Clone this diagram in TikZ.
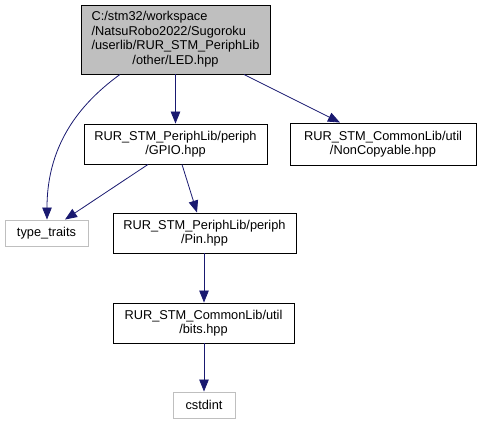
\documentclass[tikz,border=0pt]{standalone}
\usepackage{fontspec}
\setmainfont{Liberation Sans}
\usetikzlibrary{arrows.meta}
\definecolor{edgeblue}{HTML}{191970}
\definecolor{nodegrey}{HTML}{BFBFBF}
\tikzset{
  filebox/.style={draw=black, line width=0.9pt, minimum width=#1, inner sep=0pt, minimum height=40pt, align=center, font=\fontsize{12.8}{14.5}\selectfont},
  extbox/.style={draw=nodegrey, line width=0.9pt, minimum width=#1, inner sep=0pt, minimum height=26pt, align=center, font=\fontsize{12.8}{14.5}\selectfont},
  dep/.style={draw=edgeblue, line width=0.8pt, -{Triangle[length=12pt,width=9.5pt]}, fill=none},
}
\begin{document}
\begin{tikzpicture}[x=1pt,y=-1pt]
\useasboundingbox (0,0) rectangle (477,424);
\node[filebox=189pt, minimum height=69pt, fill=nodegrey] (top) at (175.5,39.5)
  {\def\arraystretch{1.0}\begin{tabular}{@{}l@{}}C:/stm32/workspace\\/NatsuRobo2022/Sugoroku\\/userlib/RUR\_STM\_PeriphLib\\\multicolumn{1}{@{}c@{}}{/other/LED.hpp}\end{tabular}};
\node[filebox=183pt] (gpio) at (175.5,144) {RUR\_STM\_PeriphLib/periph\\/GPIO.hpp};
\node[filebox=186pt, minimum height=42pt] (nc) at (383,144) {RUR\_STM\_CommonLib/util\\/NonCopyable.hpp};
\node[extbox=83pt] (tt) at (46.5,233) {type\_traits};
\node[filebox=183pt] (pin) at (204.5,233) {RUR\_STM\_PeriphLib/periph\\/Pin.hpp};
\node[filebox=181pt] (bits) at (203.5,323) {RUR\_STM\_CommonLib/util\\/bits.hpp};
\node[extbox=62pt] (cst) at (204,405) {cstdint};
\draw[dep] ([xshift=-55.5pt]top.south) .. controls (85,100) and (47,140) .. ([xshift=0.5pt]tt.north);
\draw[dep] (top.south) -- (gpio.north);
\draw[dep] ([xshift=68.5pt]top.south) -- ([xshift=-43pt]nc.north);
\draw[dep] ([xshift=-27.5pt]gpio.south) -- ([xshift=18.5pt]tt.north);
\draw[dep] ([xshift=6.5pt]gpio.south) -- ([xshift=-7.5pt]pin.north);
\draw[dep] ([xshift=-0.5pt]pin.south) -- ([xshift=0.5pt]bits.north);
\draw[dep] ([xshift=0.5pt]bits.south) -- (cst.north);
\end{tikzpicture}
\end{document}
